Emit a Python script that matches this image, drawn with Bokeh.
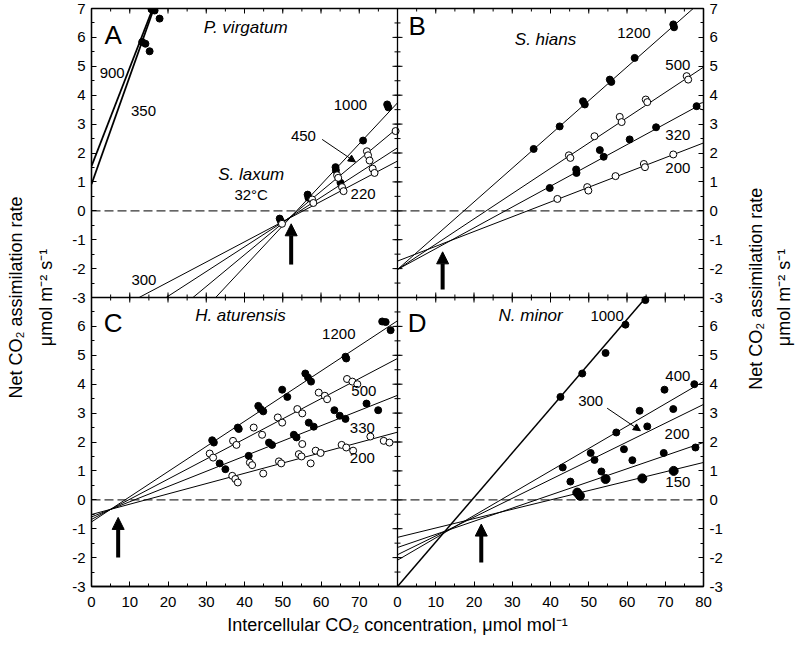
import math
from bokeh.plotting import figure
from bokeh.models import Range1d, LinearAxis, FixedTicker, Span, Arrow, NormalHead, Label
from bokeh.core.properties import value
from bokeh.embed import file_html
from bokeh.resources import INLINE

FONT = "Liberation Sans"

# ---------------- tick values / labels ----------------
x_labels_left = ["0", "10", "20", "30", "40", "50", "60", "70"]
x_labels_right = ["0", "10", "20", "30", "40", "50", "60", "70", "80"]
y_labels_top = ["-3", "-2", "-1", "0", "1", "2", "3", "4", "5", "6", "7"]
y_labels_bottom = ["-3", "-2", "-1", "0", "1", "2", "3", "4", "5", "6"]

y_title_1 = "Net CO₂ assimilation rate"
y_title_2 = "μmol m⁻² s⁻¹"
x_title = "Intercellular CO₂ concentration, μmol mol⁻¹"

# ---------------- Panel A : P. virgatum & S. laxum ----------------
pv_x = [13.25, 14.1, 15.2, 15.7, 16.5, 17.8]
pv_y = [5.84, 5.78, 5.52, 6.97, 6.93, 6.65]
pv_line_int = [1.54, 0.92]          # 900, 350
pv_line_slope = [0.341, 0.373]

sl_fill_x = [49.2, 49.5, 56.5, 56.7, 63.8, 63.9, 65.1, 71.0, 77.3, 77.6]
sl_fill_y = [-0.27, -0.36, 0.56, 0.45, 1.51, 1.40, 0.97, 2.43, 3.68, 3.58]
sl_open_x = [49.8, 57.7, 58.0, 64.2, 64.5, 65.5, 65.9, 72.0, 72.3, 72.7, 73.5, 74.0, 79.5]
sl_open_y = [-0.45, 0.39, 0.27, 1.23, 1.14, 0.82, 0.68, 2.06, 1.92, 1.74, 1.46, 1.31, 2.76]
sl_line_int = [-7.60, -5.91, -4.67, -3.87]
sl_line_slope = [0.1417, 0.1097, 0.0856, 0.0699]

# ---------------- Panel B : S. hians ----------------
b1200_x = [35.6, 42.4, 48.5, 48.97, 55.5, 55.9, 62.0, 72.1, 72.3]
b1200_y = [2.14, 2.92, 3.79, 3.68, 4.54, 4.46, 5.29, 6.45, 6.35]
b500_x = [44.8, 45.2, 51.5, 58.1, 58.6, 64.9, 65.3, 75.6, 76.0, 79.7]
b500_y = [1.92, 1.83, 2.58, 3.25, 3.07, 3.85, 3.76, 4.66, 4.54, 3.62]
b320_x = [39.8, 46.7, 46.8, 52.9, 53.9, 60.7, 67.6, 78.2]
b320_y = [0.79, 1.43, 1.31, 2.10, 1.87, 2.47, 2.89, 3.62]
b200_x = [41.8, 49.6, 49.9, 57.0, 64.4, 64.7, 72.1]
b200_y = [0.41, 0.82, 0.70, 1.20, 1.62, 1.51, 1.95]
b_line_int = [-2.03, -2.03, -2.03, -1.74]      # 1200, 500, 320, 200
b_line_slope = [0.1168, 0.0875, 0.072, 0.0511]

# ---------------- Panel C : H. aturensis ----------------
c1200_x = [31.55, 31.99, 38.25, 38.5, 43.6, 44.2, 44.9, 49.85, 51.2, 55.9, 56.6, 57.4, 66.4, 66.6, 76.0, 76.9, 78.2]
c1200_y = [2.06, 1.98, 2.50, 2.45, 3.25, 3.14, 3.06, 3.81, 3.56, 4.37, 4.23, 4.09, 4.95, 4.89, 6.17, 6.15, 5.87]
c500_x = [30.9, 31.8, 37.0, 37.9, 42.4, 44.6, 48.7, 49.85, 53.8, 55.1, 59.4, 61.0, 61.6, 66.8, 68.2, 69.5]
c500_y = [1.60, 1.46, 2.04, 1.90, 2.50, 2.25, 2.85, 2.67, 3.14, 2.99, 3.71, 3.60, 3.48, 4.18, 4.09, 4.00]
c330_x = [33.5, 35.0, 41.1, 46.4, 47.2, 52.9, 53.6, 56.8, 58.1, 63.5, 64.9, 66.4, 71.9, 74.95]
c330_y = [1.26, 1.06, 1.52, 1.98, 1.90, 2.25, 2.16, 2.67, 2.53, 3.10, 2.91, 2.80, 3.33, 3.10]
c200_x = [36.8, 37.6, 38.25, 41.4, 42.0, 44.9, 49.0, 49.6, 54.2, 54.9, 55.1, 57.3, 58.6, 59.9, 65.4, 66.6, 68.4, 72.9, 76.4, 77.9]
c200_y = [0.83, 0.72, 0.60, 1.29, 1.20, 0.91, 1.33, 1.26, 1.58, 1.50, 1.93, 1.26, 1.70, 1.62, 1.90, 1.81, 1.70, 2.19, 2.04, 1.98]
c_line_int = [-0.765, -0.678, -0.593, -0.508]  # 1200, 500, 330, 200
c_line_slope = [0.0870, 0.0696, 0.0526, 0.0356]

# ---------------- Panel D : N. minor ----------------
d1000_x = [42.6, 48.3, 54.4, 59.6, 64.8]
d1000_y = [3.56, 4.37, 5.08, 6.06, 6.91]
d400_x = [43.2, 50.5, 57.2, 63.3, 69.8, 77.6]
d400_y = [1.12, 1.62, 2.33, 3.08, 3.81, 4.00]
d300_x = [51.5, 59.2, 65.3, 72.1]
d300_y = [1.38, 1.75, 2.54, 3.14]
d200_x = [45.2, 53.3, 61.4, 69.6, 77.9]
d200_y = [0.63, 0.98, 1.37, 1.62, 1.81]
d150_x = [47.0, 47.7, 54.4, 64.0, 72.2]
d150_y = [0.25, 0.14, 0.72, 0.74, 1.00]
d_line_int = [-3.0, -2.09, -1.9, -1.65, -1.30]   # 1000, 400, 300, 200, 150
d_line_slope = [0.154, 0.0773, 0.065, 0.0454, 0.0324]

XMIN, XMAX, YMIN, YMAX = 0, 80, -3, 7

# ---------------- figure ----------------
p = figure(x_range=Range1d(0, 160), y_range=Range1d(-3, 17),
           frame_width=612, frame_height=578,
           min_border_left=91, min_border_right=96, min_border_top=8, min_border_bottom=58,
           output_backend="svg", toolbar_location=None,
           background_fill_color="white", border_fill_color="white")
p.extra_x_ranges = {"xL": Range1d(0, 160), "xR": Range1d(-80, 80)}
p.extra_y_ranges = {"yT": Range1d(-13, 7), "yB": Range1d(-3, 17)}
p.xgrid.visible = False
p.ygrid.visible = False
p.outline_line_color = "black"
p.outline_line_width = 1.3

x_major = [10 * i for i in range(17)]
x_minor = [5 * i for i in range(33)]
y_major = [-3 + i for i in range(21)]
y_minor = [-3 + 0.5 * i for i in range(41)]

x_over = {}
for i, lab in enumerate(x_labels_left):
    x_over[10 * i] = lab
for i, lab in enumerate(x_labels_right):
    x_over[80 + 10 * i] = lab
y_over = {}
for i, lab in enumerate(y_labels_bottom):
    y_over[-3 + i] = lab
for i, lab in enumerate(y_labels_top):
    y_over[7 + i] = lab


def style_axis(ax):
    ax.major_tick_in = 5
    ax.major_tick_out = 0
    ax.minor_tick_in = 3
    ax.minor_tick_out = 0
    ax.axis_line_width = 1.3
    ax.major_tick_line_width = 1
    ax.minor_tick_line_width = 1
    ax.major_label_text_font = FONT
    ax.major_label_text_font_size = "15px"
    ax.major_label_text_color = "black"
    ax.axis_label_text_font = FONT
    ax.axis_label_text_font_size = "18px"
    ax.axis_label_text_font_style = "normal"
    ax.axis_label_text_color = "black"
    ax.axis_label_text_line_height = 1.5


xax = p.xaxis[0]
xax.ticker = FixedTicker(ticks=x_major, minor_ticks=x_minor)
xax.major_label_overrides = x_over
xax.major_label_standoff = 10
style_axis(xax)
xax.axis_label = x_title
xax.axis_label_standoff = 5
xax.axis_label_text_line_height = 1.2

yax = p.yaxis[0]
yax.ticker = FixedTicker(ticks=y_major, minor_ticks=y_minor)
yax.major_label_overrides = y_over
yax.major_label_standoff = 6
style_axis(yax)
yax.axis_label = y_title_1 + "\n" + y_title_2
yax.axis_label_standoff = 13

ax_right = LinearAxis(ticker=FixedTicker(ticks=y_major, minor_ticks=y_minor),
                      major_label_overrides=y_over, major_label_standoff=6)
style_axis(ax_right)
p.add_layout(ax_right, "right")

# right-hand title: labels living in the right side panel (reading bottom-to-top)
for xx, yy, t in [(173.6, 7.3, y_title_1), (181.0, 7.0, y_title_2)]:
    p.add_layout(Label(x=xx, y=yy, text=t, angle=math.pi / 2, text_align="center",
                       text_baseline="middle", text_font=FONT, text_font_size="18px",
                       text_color="black"), "right")

# top edge ticks (inward half only is visible inside the frame)
p.scatter(x_major, [17] * len(x_major), marker="dash", angle=math.pi / 2, size=10, line_color="black", line_width=1)
p.scatter(x_minor, [17] * len(x_minor), marker="dash", angle=math.pi / 2, size=6, line_color="black", line_width=1)

# panel divisions with crossing ticks
p.add_layout(Span(location=80, dimension="height", line_color="black", line_width=1.3))
p.add_layout(Span(location=7, dimension="width", line_color="black", line_width=1.3))
p.scatter([80] * len(y_major), y_major, marker="dash", size=10, line_color="black", line_width=1)
p.scatter([80] * len(y_minor), y_minor, marker="dash", size=6, line_color="black", line_width=1)
p.scatter(x_major, [7] * len(x_major), marker="dash", angle=math.pi / 2, size=10, line_color="black", line_width=1)
p.scatter(x_minor, [7] * len(x_minor), marker="dash", angle=math.pi / 2, size=6, line_color="black", line_width=1)

PANELS = {"A": ("xL", "yT"), "B": ("xR", "yT"), "C": ("xL", "yB"), "D": ("xR", "yB")}


def clip(m, b):
    x0, x1 = XMIN, XMAX
    if m > 0:
        x0 = max(x0, (YMIN - b) / m)
        x1 = min(x1, (YMAX - b) / m)
    return [x0, x1], [m * x0 + b, m * x1 + b]


def lines(panel, ints, slopes, width=1.0):
    xr, yr = PANELS[panel]
    for b, m in zip(ints, slopes):
        xs, ys = clip(m, b)
        p.line(xs, ys, line_color="black", line_width=width, x_range_name=xr, y_range_name=yr)


def pts(panel, xs, ys, filled, size=7):
    xr, yr = PANELS[panel]
    p.scatter(xs, ys, marker="circle", size=size, line_color="black", line_width=1,
              fill_color="black" if filled else "white", x_range_name=xr, y_range_name=yr)


def zero(panel):
    xr, yr = PANELS[panel]
    p.line([XMIN, XMAX], [0, 0], line_color="#333333", line_width=1.3, line_dash="9 4",
           x_range_name=xr, y_range_name=yr)


def txt(panel, xs, ys, texts, size="15px", style="normal"):
    xr, yr = PANELS[panel]
    p.text(xs, ys, text=texts, text_font=value(FONT), text_font_size=size, text_font_style=style,
           text_color="black", text_align="center", text_baseline="middle",
           x_range_name=xr, y_range_name=yr)


def big_arrow(panel, x, y0, y1):
    xr, yr = PANELS[panel]
    p.add_layout(Arrow(end=NormalHead(size=12, fill_color="black", line_color="black", line_width=1),
                       x_start=x, y_start=y0, x_end=x, y_end=y1, line_width=4, line_color="black",
                       x_range_name=xr, y_range_name=yr))


def small_arrow(panel, x0, y0, x1, y1):
    xr, yr = PANELS[panel]
    p.add_layout(Arrow(end=NormalHead(size=7, fill_color="black", line_color="black", line_width=1),
                       x_start=x0, y_start=y0, x_end=x1, y_end=y1, line_width=1, line_color="black",
                       x_range_name=xr, y_range_name=yr))


for k in PANELS:
    zero(k)

# Panel A
lines("A", pv_line_int, pv_line_slope, width=1.8)
lines("A", sl_line_int, sl_line_slope)
pts("A", pv_x, pv_y, True)
pts("A", sl_fill_x, sl_fill_y, True)
pts("A", sl_open_x, sl_open_y, False)
txt("A", [5.67], [6.1], ["A"], size="26px")
txt("A", [40.3], [6.35], ["P. virgatum"], size="17px", style="italic")
txt("A", [41.75], [1.26], ["S. laxum"], size="17px", style="italic")
txt("A", [41.75, 5.4, 13.6, 67.7, 55.4, 71.0, 13.7], [0.56, 4.77, 3.45, 3.65, 2.58, 0.58, -2.38],
    ["32°C", "900", "350", "1000", "450", "220", "300"])
small_arrow("A", 60.3, 2.47, 69.0, 1.69)
big_arrow("A", 52.2, -1.86, -0.45)

# Panel B
lines("B", b_line_int, b_line_slope)
pts("B", b1200_x, b1200_y, True)
pts("B", b500_x, b500_y, False)
pts("B", b320_x, b320_y, True)
pts("B", b200_x, b200_y, False)
txt("B", [5.15], [6.39], ["B"], size="26px")
txt("B", [38.7], [5.93], ["S. hians"], size="17px", style="italic")
txt("B", [61.8, 73.3, 73.3, 73.3], [6.16, 5.06, 2.64, 1.48], ["1200", "500", "320", "200"])
big_arrow("B", 11.8, -2.72, -1.42)

# Panel C
lines("C", c_line_int, c_line_slope)
pts("C", c1200_x, c1200_y, True)
pts("C", c500_x, c500_y, False)
pts("C", c330_x, c330_y, True)
pts("C", c200_x, c200_y, False)
txt("C", [5.67], [6.13], ["C"], size="26px")
txt("C", [38.95], [6.37], ["H. aturensis"], size="17px", style="italic")
txt("C", [64.65, 71.2, 70.8, 70.8], [5.73, 3.77, 2.5, 1.46], ["1200", "500", "330", "200"])
big_arrow("C", 6.97, -2.0, -0.61)

# Panel D
lines("D", d_line_int[:1], d_line_slope[:1], width=1.5)
lines("D", d_line_int[1:], d_line_slope[1:])
pts("D", d1000_x, d1000_y, True)
pts("D", d400_x, d400_y, True)
pts("D", d300_x, d300_y, True)
pts("D", d200_x, d200_y, True)
pts("D", d150_x, d150_y, True, size=9)
txt("D", [5.15], [6.13], ["D"], size="26px")
txt("D", [34.8], [6.37], ["N. minor"], size="17px", style="italic")
txt("D", [54.8, 73.3, 50.5, 73.1, 73.3], [6.37, 4.29, 3.43, 2.27, 0.6], ["1000", "400", "300", "200", "150"])
small_arrow("D", 54.8, 3.17, 63.5, 2.39)
big_arrow("D", 21.9, -2.17, -0.84)

open("out.html", "w").write(file_html(p, INLINE))
